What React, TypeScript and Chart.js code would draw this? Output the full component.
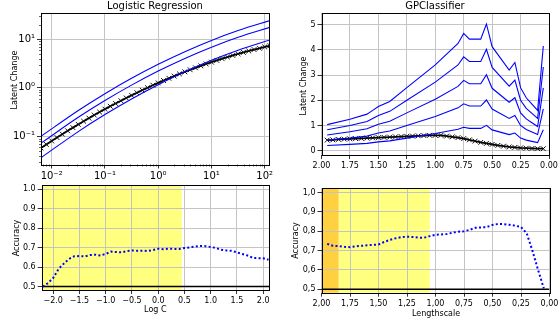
import { useEffect, useRef } from "react";
import { Chart, registerables } from "chart.js";

Chart.register(...registerables);

const FONT = "'DejaVu Sans', 'Liberation Sans', sans-serif";
const GRID = "#c4c4c4";
const INK = "#000000";
const BLUE = "#0000ff";

// ---------------- Logistic Regression ----------------
const logC = [
  -2.2, -2.1, -2.0, -1.9, -1.8, -1.7, -1.6, -1.5, -1.4, -1.3, -1.2,
  -1.1, -1.0, -0.9, -0.8, -0.7, -0.6, -0.5, -0.4, -0.3, -0.2, -0.1,
  0.0, 0.1, 0.2, 0.3, 0.4, 0.5, 0.6, 0.7, 0.8, 0.9, 1.0,
  1.1, 1.2, 1.3, 1.4, 1.5, 1.6, 1.7, 1.8, 1.9, 2.0, 2.1,
];
const lrMean = [
  0.0575, 0.0681, 0.0803, 0.0944, 0.111, 0.13, 0.151, 0.176, 0.205, 0.237, 0.274,
  0.316, 0.363, 0.416, 0.475, 0.542, 0.616, 0.699, 0.791, 0.892, 1.004, 1.13,
  1.26, 1.41, 1.57, 1.74, 1.93, 2.13, 2.35, 2.58, 2.83, 3.09, 3.37,
  3.66, 3.98, 4.3, 4.64, 4.99, 5.36, 5.74, 6.13, 6.52, 6.93, 7.34,
];
const lrBandX = [-2.2, -1.5, -1.0, -0.5, 0.0, 0.5, 1.0, 1.5, 2.1];
const lrBandHigh = [0.1, 0.34, 0.755, 1.565, 3.045, 5.55, 9.46, 15.1, 24.3];
const lrBandMid = [0.0724, 0.2466, 0.547, 1.134, 2.207, 4.02, 6.85, 10.95, 17.6];
const lrBandLow = [0.0363, 0.1253, 0.281, 0.5896, 1.16, 2.135, 3.68, 5.94, 9.68];
const lrAccuracy = [
  0.5, 0.518, 0.545, 0.59, 0.618, 0.642, 0.656, 0.657, 0.655, 0.662, 0.664,
  0.66, 0.668, 0.68, 0.678, 0.676, 0.682, 0.686, 0.684, 0.685, 0.683, 0.688,
  0.695, 0.692, 0.695, 0.694, 0.694, 0.698, 0.702, 0.706, 0.709, 0.708, 0.704,
  0.698, 0.69, 0.686, 0.684, 0.676, 0.668, 0.66, 0.648, 0.646, 0.646, 0.638,
];
const lrXTickValues = [-2, -1, 0, 1, 2];
const lrXTickLabels = ["10⁻²", "10⁻¹", "10⁰", "10¹", "10²"];
const lrYTickValues = [0.1, 1, 10];
const lrYTickLabels = ["10⁻¹", "10⁰", "10¹"];
const logCTickValues = [-2, -1.5, -1, -0.5, 0, 0.5, 1, 1.5, 2];
const logCTickLabels = ["−2.0", "−1.5", "−1.0", "−0.5", "0.0", "0.5", "1.0", "1.5", "2.0"];
const lrSpanFrom = -2.22;
const lrSpanTo = 0.45;

// ---------------- GPClassifier ----------------
const gpLs = [
  1.95, 1.9, 1.85, 1.8, 1.75, 1.7, 1.65, 1.6, 1.55, 1.5,
  1.45, 1.4, 1.35, 1.3, 1.25, 1.2, 1.15, 1.1, 1.05, 1.0,
  0.95, 0.9, 0.85, 0.8, 0.75, 0.7, 0.65, 0.6, 0.55, 0.5,
  0.45, 0.4, 0.35, 0.3, 0.25, 0.2, 0.15, 0.1, 0.05,
];
const gpMean = [
  0.42, 0.43, 0.45, 0.46, 0.47, 0.48, 0.49, 0.5, 0.51, 0.52,
  0.53, 0.54, 0.55, 0.56, 0.57, 0.58, 0.59, 0.6, 0.61, 0.61,
  0.61, 0.58, 0.55, 0.52, 0.48, 0.43, 0.38, 0.33, 0.29, 0.25,
  0.21, 0.18, 0.15, 0.13, 0.11, 0.1, 0.09, 0.08, 0.08,
];
const gpBandX = [1.95, 1.75, 1.6, 1.55, 1.5, 1.4, 1.25, 1.0, 0.8, 0.75, 0.7, 0.6, 0.55, 0.5, 0.35, 0.3, 0.25, 0.2, 0.15, 0.1, 0.05];
const gpBand1 = [0.207, 0.25, 0.29, 0.32, 0.35, 0.39, 0.5, 0.68, 0.85, 0.93, 0.885, 0.885, 1.005, 0.825, 0.64, 0.7, 0.5, 0.42, 0.37, 0.32, 0.83];
const gpBand2 = [0.414, 0.5, 0.58, 0.64, 0.7, 0.78, 1.0, 1.36, 1.7, 1.86, 1.77, 1.77, 2.01, 1.65, 1.28, 1.4, 1.0, 0.84, 0.74, 0.64, 1.66];
const gpBand3 = [0.621, 0.75, 0.87, 0.96, 1.05, 1.17, 1.5, 2.04, 2.55, 2.79, 2.655, 2.655, 3.015, 2.475, 1.92, 2.1, 1.5, 1.26, 1.11, 0.96, 2.49];
const gpBand4 = [0.828, 1.0, 1.16, 1.28, 1.4, 1.56, 2.0, 2.72, 3.4, 3.72, 3.54, 3.54, 4.02, 3.3, 2.56, 2.8, 2.0, 1.68, 1.48, 1.28, 3.32];
const gpBand5 = [1.035, 1.25, 1.45, 1.6, 1.75, 1.95, 2.5, 3.4, 4.25, 4.65, 4.425, 4.425, 5.025, 4.125, 3.2, 3.5, 2.5, 2.1, 1.85, 1.6, 4.15];
const gpAccuracy = [
  0.735, 0.725, 0.724, 0.72, 0.718, 0.722, 0.725, 0.728, 0.73, 0.732,
  0.745, 0.756, 0.764, 0.77, 0.772, 0.771, 0.767, 0.767, 0.775, 0.782,
  0.784, 0.786, 0.793, 0.798, 0.8, 0.808, 0.818, 0.82, 0.822, 0.833,
  0.838, 0.837, 0.834, 0.829, 0.822, 0.79, 0.7, 0.6, 0.505,
];
const gpXTickValues = [2, 1.75, 1.5, 1.25, 1, 0.75, 0.5, 0.25, 0];
const gpXTickLabels = ["2.00", "1.75", "1.50", "1.25", "1.00", "0.75", "0.50", "0.25", "0.00"];
const gpXTickLabelsComma = ["2,00", "1,75", "1,50", "1,25", "1,00", "0,75", "0,50", "0,25", "0,00"];
const gpYTickValues = [0, 1, 2, 3, 4, 5];
const gpYTickLabels = ["0", "1", "2", "3", "4", "5"];
const gpOrangeFrom = 2.0;
const gpOrangeTo = 1.85;
const gpYellowFrom = 1.85;
const gpYellowTo = 1.05;

const accTickValues = [0.5, 0.6, 0.7, 0.8, 0.9, 1.0];
const accTickLabelsDot = ["0.5", "0.6", "0.7", "0.8", "0.9", "1.0"];
const accTickLabelsComma = ["0,5", "0,6", "0,7", "0,8", "0,9", "1,0"];
const chanceLevel = 0.5;

// ---------------- helpers ----------------
const W = 558;
const H = 323;

const pts = (xs: number[], ys: number[]) => xs.map((x, i) => ({ x, y: ys[i] }));

function xAxis(o: { type?: string; min: number; max: number; reverse?: boolean; values: number[]; labels: string[]; h: number; size?: number }) {
  return {
    type: o.type || "linear",
    position: "bottom",
    bounds: "data",
    min: o.min,
    max: o.max,
    reverse: !!o.reverse,
    afterBuildTicks: (s: any) => {
      s.ticks = o.values.map((v) => ({ value: v }));
    },
    afterFit: (s: any) => {
      s.height = o.h;
      s.paddingLeft = 0;
      s.paddingRight = 0;
      s.paddingTop = 0;
      s.paddingBottom = 0;
    },
    grid: { color: GRID, lineWidth: 1, drawTicks: true, tickLength: 4, tickColor: INK, tickWidth: 0.8 },
    border: { display: false },
    ticks: {
      autoSkip: false,
      maxRotation: 0,
      minRotation: 0,
      padding: 2,
      color: INK,
      font: { family: FONT, size: o.size || 8 },
      callback: (_v: any, i: number) => o.labels[i],
    },
  };
}

function yAxis(o: { type?: string; min: number; max: number; values: number[]; labels: string[]; w: number; size?: number }) {
  return {
    type: o.type || "linear",
    position: "left",
    bounds: "data",
    min: o.min,
    max: o.max,
    afterBuildTicks: (s: any) => {
      s.ticks = o.values.map((v) => ({ value: v }));
    },
    afterFit: (s: any) => {
      s.width = o.w;
      s.paddingLeft = 0;
      s.paddingRight = 0;
      s.paddingTop = 0;
      s.paddingBottom = 0;
    },
    grid: { color: GRID, lineWidth: 1, drawTicks: true, tickLength: 4, tickColor: INK, tickWidth: 0.8 },
    border: { display: false },
    ticks: {
      autoSkip: false,
      padding: 2,
      color: INK,
      font: { family: FONT, size: o.size || 8 },
      callback: (_v: any, i: number) => o.labels[i],
    },
  };
}

const framePlugin = {
  id: "frame",
  afterDatasetsDraw(chart: any) {
    const { ctx, chartArea: a } = chart;
    ctx.save();
    ctx.strokeStyle = INK;
    ctx.lineWidth = 1;
    ctx.strokeRect(Math.round(a.left) + 0.5, Math.round(a.top) + 0.5, Math.round(a.right) - Math.round(a.left), Math.round(a.bottom) - Math.round(a.top));
    ctx.restore();
  },
};

function spansPlugin(spans: { from: number; to: number; color: string }[]) {
  return {
    id: "spans",
    beforeDraw(chart: any) {
      const { ctx, chartArea: a } = chart;
      const x = chart.scales.x;
      ctx.save();
      for (const s of spans) {
        const x1 = Math.max(a.left, Math.min(a.right, x.getPixelForValue(s.from)));
        const x2 = Math.max(a.left, Math.min(a.right, x.getPixelForValue(s.to)));
        ctx.fillStyle = s.color;
        ctx.fillRect(Math.min(x1, x2), a.top, Math.abs(x2 - x1), a.bottom - a.top);
      }
      ctx.restore();
    },
  };
}

function minorTicksPlugin(xs: number[], ys: number[]) {
  return {
    id: "minorTicks",
    afterDraw(chart: any) {
      const { ctx, chartArea: a } = chart;
      const sx = chart.scales.x;
      const sy = chart.scales.y;
      ctx.save();
      ctx.strokeStyle = INK;
      ctx.lineWidth = 0.6;
      ctx.beginPath();
      for (const v of xs) {
        const p = Math.round(sx.getPixelForValue(v)) + 0.5;
        if (p < a.left || p > a.right) continue;
        ctx.moveTo(p, a.bottom);
        ctx.lineTo(p, a.bottom + 2);
      }
      for (const v of ys) {
        const p = Math.round(sy.getPixelForValue(v)) + 0.5;
        if (p < a.top || p > a.bottom) continue;
        ctx.moveTo(a.left, p);
        ctx.lineTo(a.left - 2, p);
      }
      ctx.stroke();
      ctx.restore();
    },
  };
}

type TextSpec = { text: string; x: number; y: number; size: number; rotate?: boolean };
function textPlugin(items: TextSpec[]) {
  return {
    id: "texts",
    afterDraw(chart: any) {
      const ctx = chart.ctx;
      ctx.save();
      ctx.fillStyle = INK;
      ctx.textAlign = "center";
      ctx.textBaseline = "middle";
      for (const t of items) {
        ctx.font = `${t.size}px ${FONT}`;
        ctx.save();
        ctx.translate(t.x, t.y);
        if (t.rotate) ctx.rotate(-Math.PI / 2);
        ctx.fillText(t.text, 0, 0);
        ctx.restore();
      }
      ctx.restore();
    },
  };
}

function baseOptions(pad: { left: number; top: number; right: number; bottom: number }, scales: any) {
  return {
    responsive: false,
    animation: false,
    devicePixelRatio: 1,
    events: [],
    layout: { autoPadding: false, padding: pad },
    plugins: { legend: { display: false }, title: { display: false }, tooltip: { enabled: false } },
    scales,
  };
}

// chart areas
const TL = { left: 41, top: 13, right: 269, bottom: 164.5, yW: 37, xH: 16 };
const TR = { left: 321.5, top: 13, right: 549, bottom: 155, yW: 20, xH: 16 };
const BL = { left: 41.7, top: 185, right: 269, bottom: 290, yW: 25, xH: 14 };
const BR = { left: 321.5, top: 188.3, right: 549.5, bottom: 292.7, yW: 25, xH: 14 };

const padOf = (b: typeof TL) => ({
  left: b.left - b.yW,
  top: b.top,
  right: W - b.right,
  bottom: H - b.bottom - b.xH,
});

const meanStyle = {
  borderColor: INK,
  borderWidth: 1.8,
  pointStyle: "crossRot",
  pointRadius: 3.4,
  pointBorderColor: "#111111",
  pointBorderWidth: 1,
};

function cfgTL(): any {
  const minorX: number[] = [];
  for (let n = -3; n <= 2; n++) for (let k = 2; k <= 9; k++) minorX.push(n + Math.log10(k));
  const minorY: number[] = [];
  for (let n = -2; n <= 1; n++) for (let k = 2; k <= 9; k++) minorY.push(k * Math.pow(10, n));
  const band = (ys: number[]) => ({
    data: pts(lrBandX, ys),
    borderColor: BLUE,
    borderWidth: 1.1,
    pointRadius: 0,
    cubicInterpolationMode: "monotone",
  });
  return {
    type: "line",
    data: {
      datasets: [
        band(lrBandHigh),
        band(lrBandMid),
        band(lrBandLow),
        { data: pts(logC, lrMean), ...meanStyle },
      ],
    },
    options: baseOptions(padOf(TL), {
      x: xAxis({ min: -2.2, max: 2.08, values: lrXTickValues, labels: lrXTickLabels, h: TL.xH, size: 10 }),
      y: yAxis({ type: "logarithmic", min: 0.0263, max: 34.7, values: lrYTickValues, labels: lrYTickLabels, w: TL.yW, size: 10 }),
    }),
    plugins: [
      framePlugin,
      minorTicksPlugin(minorX, minorY),
      textPlugin([
        { text: "Logistic Regression", x: 155, y: 6.5, size: 10 },
        { text: "Latent Change", x: 15, y: 80, size: 8, rotate: true },
      ]),
    ],
  };
}

function cfgTR(): any {
  const band = (ys: number[]) => ({
    data: pts(gpBandX, ys),
    borderColor: BLUE,
    borderWidth: 1.1,
    pointRadius: 0,
  });
  return {
    type: "line",
    data: {
      datasets: [
        band(gpBand5),
        band(gpBand4),
        band(gpBand3),
        band(gpBand2),
        band(gpBand1),
        { data: pts(gpLs, gpMean), ...meanStyle },
      ],
    },
    options: baseOptions(padOf(TR), {
      x: xAxis({ min: 0, max: 2, reverse: true, values: gpXTickValues, labels: gpXTickLabels, h: TR.xH }),
      y: yAxis({ min: -0.17, max: 5.46, values: gpYTickValues, labels: gpYTickLabels, w: TR.yW }),
    }),
    plugins: [
      framePlugin,
      textPlugin([
        { text: "GPClassifier", x: 435, y: 6.5, size: 10 },
        { text: "Latent Change", x: 303.5, y: 86, size: 8, rotate: true },
      ]),
    ],
  };
}

function cfgBL(): any {
  const xmin = -2.22;
  const xmax = 2.11;
  return {
    type: "line",
    data: {
      datasets: [
        {
          data: pts(logC, lrAccuracy),
          borderColor: BLUE,
          borderWidth: 2,
          borderDash: [2, 2.3],
          borderCapStyle: "butt",
          pointRadius: 0,
        },
        {
          data: pts([xmin, xmax], [chanceLevel, chanceLevel]),
          borderColor: INK,
          borderWidth: 1.5,
          pointRadius: 0,
        },
      ],
    },
    options: baseOptions(padOf(BL), {
      x: xAxis({ min: xmin, max: xmax, values: logCTickValues, labels: logCTickLabels, h: BL.xH }),
      y: yAxis({ min: 0.4825, max: 1.0225, values: accTickValues, labels: accTickLabelsDot, w: BL.yW }),
    }),
    plugins: [
      spansPlugin([{ from: lrSpanFrom, to: lrSpanTo, color: "#ffff80" }]),
      framePlugin,
      textPlugin([
        { text: "Log C", x: 155.3, y: 310, size: 8 },
        { text: "Accuracy", x: 16.7, y: 238, size: 8, rotate: true },
      ]),
    ],
  };
}

function cfgBR(): any {
  return {
    type: "line",
    data: {
      datasets: [
        {
          data: pts(gpLs, gpAccuracy),
          borderColor: BLUE,
          borderWidth: 2,
          borderDash: [2, 2.3],
          borderCapStyle: "butt",
          pointRadius: 0,
        },
        {
          data: pts([2, 0], [chanceLevel, chanceLevel]),
          borderColor: INK,
          borderWidth: 1.5,
          pointRadius: 0,
        },
      ],
    },
    options: baseOptions(padOf(BR), {
      x: xAxis({ min: 0, max: 2, reverse: true, values: gpXTickValues, labels: gpXTickLabelsComma, h: BR.xH }),
      y: yAxis({ min: 0.4825, max: 1.0225, values: accTickValues, labels: accTickLabelsComma, w: BR.yW }),
    }),
    plugins: [
      spansPlugin([
        { from: gpYellowFrom, to: gpYellowTo, color: "#ffff80" },
        { from: gpOrangeFrom, to: gpOrangeTo, color: "#ffd040" },
      ]),
      framePlugin,
      textPlugin([
        { text: "Lengthscale", x: 436, y: 313.5, size: 8 },
        { text: "Accuracy", x: 296.3, y: 240.5, size: 8, rotate: true },
      ]),
    ],
  };
}

export default function App() {
  const r1 = useRef<HTMLCanvasElement>(null);
  const r2 = useRef<HTMLCanvasElement>(null);
  const r3 = useRef<HTMLCanvasElement>(null);
  const r4 = useRef<HTMLCanvasElement>(null);

  useEffect(() => {
    const charts = [
      new Chart(r1.current as HTMLCanvasElement, cfgTL()),
      new Chart(r2.current as HTMLCanvasElement, cfgTR()),
      new Chart(r3.current as HTMLCanvasElement, cfgBL()),
      new Chart(r4.current as HTMLCanvasElement, cfgBR()),
    ];
    return () => charts.forEach((c) => c.destroy());
  }, []);

  const cs: any = { position: "absolute", left: 0, top: 0, width: W, height: H };
  return (
    <div style={{ position: "fixed", left: 0, top: 0, width: W, height: H, background: "#ffffff", overflow: "hidden" }}>
      <canvas ref={r1} width={W} height={H} style={cs} />
      <canvas ref={r2} width={W} height={H} style={cs} />
      <canvas ref={r3} width={W} height={H} style={cs} />
      <canvas ref={r4} width={W} height={H} style={cs} />
    </div>
  );
}
